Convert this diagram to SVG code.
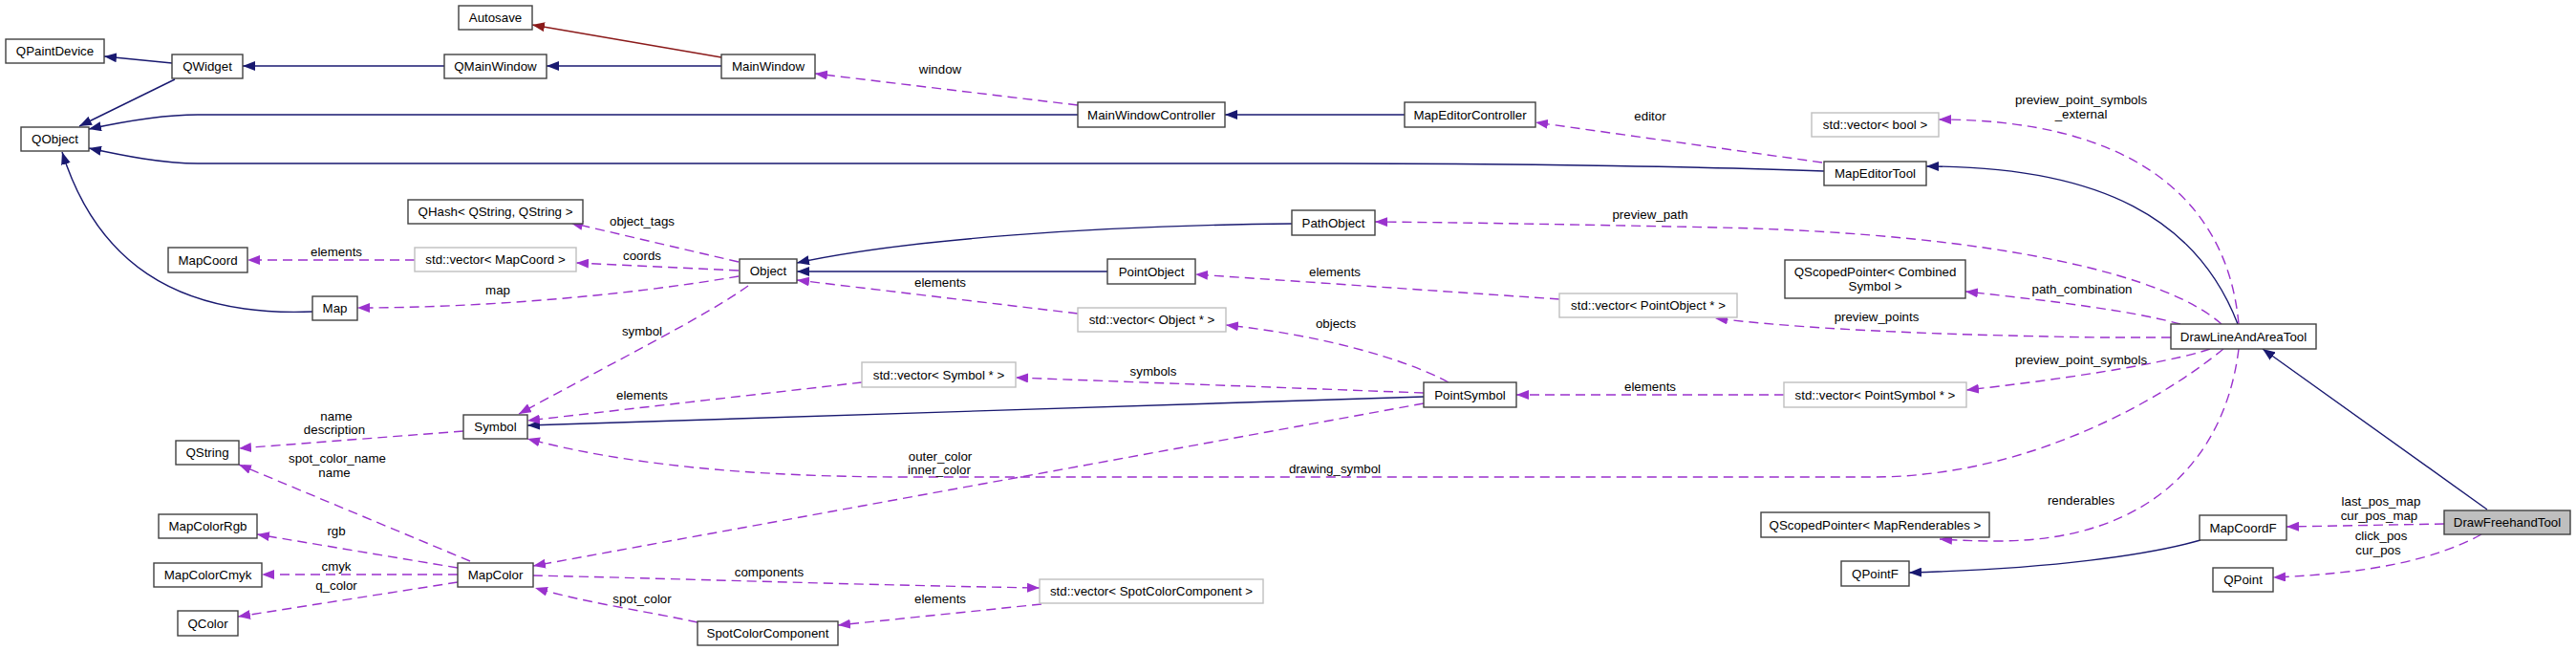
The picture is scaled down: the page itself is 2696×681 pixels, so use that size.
<svg xmlns="http://www.w3.org/2000/svg" width="2696" height="681" viewBox="0 0 2696 681">
<style>
.n rect{fill:#fff;stroke:#404040;stroke-width:1.4}
.n.t rect{stroke:#bfbfbf}
.n.cur rect{fill:#bfbfbf}
text{font-family:"Liberation Sans",Arial,sans-serif;font-size:13.3px;fill:#000}
.n text{text-anchor:middle}
.lbl text{text-anchor:middle}
.inh{fill:none;stroke:#191970;stroke-width:1.4;marker-end:url(#an)}
.red{fill:none;stroke:#8b1a1a;stroke-width:1.4;marker-end:url(#ar)}
.use{fill:none;stroke:#9a32cd;stroke-width:1.4;stroke-dasharray:10,6;marker-end:url(#ap)}
</style>
<defs>
<marker id="an" viewBox="0 0 13 10" refX="13" refY="5" markerWidth="13" markerHeight="10" markerUnits="userSpaceOnUse" orient="auto"><path d="M0,0 L13,5 L0,10 z" fill="#191970" stroke="none"/></marker>
<marker id="ar" viewBox="0 0 13 10" refX="13" refY="5" markerWidth="13" markerHeight="10" markerUnits="userSpaceOnUse" orient="auto"><path d="M0,0 L13,5 L0,10 z" fill="#8b1a1a" stroke="none"/></marker>
<marker id="ap" viewBox="0 0 13 10" refX="13" refY="5" markerWidth="13" markerHeight="10" markerUnits="userSpaceOnUse" orient="auto"><path d="M0,0 L13,5 L0,10 z" fill="#9a32cd" stroke="none"/></marker>
</defs>
<rect x="0" y="0" width="2696" height="681" fill="#fff"/>

<g id="edges">
<path class="inh" d="M180,66 L109,59"/>
<path class="inh" d="M183,83 L83,132"/>
<path class="inh" d="M465,69 L254,69"/>
<path class="inh" d="M755,69 L572,69"/>
<path class="red" d="M755,60 L557,26"/>
<path class="inh" d="M1128,120 L207,120 C170,120 130,127 93,135"/>
<path class="inh" d="M1909,179 C1800,175 1600,171 1400,171 L207,171 C170,171 130,163 93,155"/>
<path class="inh" d="M327,326 C180,332 100,270 65,159"/>
<path class="inh" d="M1352,234 C1150,236 950,250 834,275"/>
<path class="inh" d="M1159,284 L834,284"/>
<path class="inh" d="M1490,415 L552,445"/>
<path class="inh" d="M2342,339 C2300,230 2200,174 2016,174"/>
<path class="inh" d="M2303,565 C2250,580 2150,595 1998,599"/>
<path class="inh" d="M2603,533 L2368,365"/>
<path class="inh" d="M1470,120 L1282,120"/>

<path class="use" d="M1128,110 L853,77"/>
<path class="use" d="M1907,170 L1607,128"/>
<path class="use" d="M773,274 L597,233"/>
<path class="use" d="M773,283 L603,275"/>
<path class="use" d="M434,272 L259,272"/>
<path class="use" d="M773,289 C650,310 500,322 374,322"/>
<path class="use" d="M783,299 C740,330 640,380 543,433"/>
<path class="use" d="M1128,328 L834,293"/>
<path class="use" d="M902,400 L552,440"/>
<path class="use" d="M1490,411 L1063,395"/>
<path class="use" d="M1516,400 C1470,375 1380,350 1283,340"/>
<path class="use" d="M1490,422 L558,592"/>
<path class="use" d="M2327,365 C2260,420 2120,499 1960,499 L950,499 C780,499 650,485 552,459"/>
<path class="use" d="M492,587 L250,486"/>
<path class="use" d="M485,451 L250,469"/>
<path class="use" d="M479,594 L269,559"/>
<path class="use" d="M479,601 L274,601"/>
<path class="use" d="M479,609 L249,645"/>
<path class="use" d="M558,602 C700,605 900,612 1088,615"/>
<path class="use" d="M730,651 C680,640 610,630 560,615"/>
<path class="use" d="M1090,632 L877,654"/>
<path class="use" d="M1632,313 L1251,287"/>
<path class="use" d="M2325,339 C2270,290 2100,245 1800,238 C1650,235 1550,233 1439,232"/>
<path class="use" d="M2343,339 C2330,200 2220,125 2029,125"/>
<path class="use" d="M2282,339 C2230,325 2150,315 2057,305"/>
<path class="use" d="M2272,353 L2200,353 C2000,350 1880,343 1795,333"/>
<path class="use" d="M2313,365 C2270,380 2150,398 2058,408"/>
<path class="use" d="M2343,365 C2330,470 2260,566 2090,566 C2065,566 2050,565 2030,564"/>
<path class="use" d="M1867,413 L1587,413"/>
<path class="use" d="M2558,548 L2393,551"/>
<path class="use" d="M2597,559 C2550,585 2480,600 2379,604"/>
</g>

<g id="labels" class="lbl">
<text x="984" y="77">window</text>
<text x="1727" y="126">editor</text>
<text x="672" y="236">object_tags</text>
<text x="672" y="272">coords</text>
<text x="352" y="268">elements</text>
<text x="521" y="308">map</text>
<text x="672" y="351">symbol</text>
<text x="984" y="300">elements</text>
<text x="672" y="418">elements</text>
<text x="1207" y="393">symbols</text>
<text x="1398" y="343">objects</text>
<text x="984" y="482">outer_color</text>
<text x="983" y="496">inner_color</text>
<text x="1397" y="495">drawing_symbol</text>
<text x="352" y="440">name</text>
<text x="350" y="454">description</text>
<text x="353" y="484">spot_color_name</text>
<text x="350" y="499">name</text>
<text x="352" y="560">rgb</text>
<text x="352" y="597">cmyk</text>
<text x="352" y="617">q_color</text>
<text x="805" y="603">components</text>
<text x="672" y="631">spot_color</text>
<text x="984" y="631">elements</text>
<text x="1397" y="289">elements</text>
<text x="1727" y="229">preview_path</text>
<text x="2178" y="109">preview_point_symbols</text>
<text x="2178" y="124">_external</text>
<text x="2179" y="307">path_combination</text>
<text x="1964" y="336">preview_points</text>
<text x="2178" y="381">preview_point_symbols</text>
<text x="2178" y="528">renderables</text>
<text x="1727" y="409">elements</text>
<text x="2492" y="529">last_pos_map</text>
<text x="2490" y="544">cur_pos_map</text>
<text x="2492" y="565">click_pos</text>
<text x="2489" y="580">cur_pos</text>
</g>

<g id="QPaintDevice" class="n"><rect x="6" y="41" width="103" height="25"/><text x="57.5" y="58">QPaintDevice</text></g>
<g id="QWidget" class="n"><rect x="180" y="57" width="74" height="25"/><text x="217" y="74">QWidget</text></g>
<g id="QObject" class="n"><rect x="22" y="133" width="71" height="25"/><text x="57.5" y="150">QObject</text></g>
<g id="MapCoord" class="n"><rect x="176" y="259" width="83" height="26"/><text x="217.5" y="276.5">MapCoord</text></g>
<g id="Map" class="n"><rect x="327" y="310" width="47" height="25"/><text x="350.5" y="327">Map</text></g>
<g id="Autosave" class="n"><rect x="480" y="6" width="77" height="25"/><text x="518.5" y="23">Autosave</text></g>
<g id="QMainWindow" class="n"><rect x="465" y="57" width="107" height="25"/><text x="518.5" y="74">QMainWindow</text></g>
<g id="MainWindow" class="n"><rect x="755" y="57" width="98" height="25"/><text x="804" y="74">MainWindow</text></g>
<g id="QHash" class="n"><rect x="427" y="209" width="183" height="25"/><text x="518.5" y="226">QHash&lt; QString, QString &gt;</text></g>
<g id="vecMapCoord" class="n t"><rect x="434" y="259" width="169" height="25"/><text x="518.5" y="276">std::vector&lt; MapCoord &gt;</text></g>
<g id="Object" class="n"><rect x="774" y="271" width="60" height="25"/><text x="804" y="288">Object</text></g>
<g id="MainWindowController" class="n"><rect x="1128" y="107" width="154" height="26"/><text x="1205" y="124.5">MainWindowController</text></g>
<g id="PointObject" class="n"><rect x="1159" y="271" width="92" height="26"/><text x="1205" y="288.5">PointObject</text></g>
<g id="vecObject" class="n t"><rect x="1128" y="322" width="155" height="25"/><text x="1205.5" y="339">std::vector&lt; Object * &gt;</text></g>
<g id="MapEditorController" class="n"><rect x="1470" y="107" width="137" height="26"/><text x="1538.5" y="124.5">MapEditorController</text></g>
<g id="PathObject" class="n"><rect x="1352" y="220" width="87" height="26"/><text x="1395.5" y="237.5">PathObject</text></g>
<g id="vecPointObject" class="n t"><rect x="1632" y="307" width="186" height="25"/><text x="1725" y="324">std::vector&lt; PointObject * &gt;</text></g>
<g id="vecBool" class="n t"><rect x="1896" y="118" width="133" height="25"/><text x="1962.5" y="135">std::vector&lt; bool &gt;</text></g>
<g id="MapEditorTool" class="n"><rect x="1909" y="169" width="107" height="25"/><text x="1962.5" y="186">MapEditorTool</text></g>
<g id="QScopedPointerCombinedSymbol" class="n"><rect x="1868" y="272" width="189" height="40"/><text x="1962.5" y="288.5">QScopedPointer&lt; Combined</text><text x="1962.5" y="304">Symbol &gt;</text></g>
<g id="DrawLineAndAreaTool" class="n"><rect x="2272" y="339" width="152" height="26"/><text x="2348" y="356.5">DrawLineAndAreaTool</text></g>
<g id="DrawFreehandTool" class="n cur"><rect x="2558" y="534" width="132" height="25"/><text x="2624" y="551">DrawFreehandTool</text></g>
<g id="MapCoordF" class="n"><rect x="2302" y="539" width="91" height="26"/><text x="2347.5" y="556.5">MapCoordF</text></g>
<g id="QPoint" class="n"><rect x="2316" y="594" width="63" height="25"/><text x="2347.5" y="611">QPoint</text></g>
<g id="QString" class="n"><rect x="184" y="461" width="66" height="25"/><text x="217" y="478">QString</text></g>
<g id="MapColorRgb" class="n"><rect x="166" y="538" width="103" height="25"/><text x="217.5" y="555">MapColorRgb</text></g>
<g id="MapColorCmyk" class="n"><rect x="161" y="589" width="113" height="25"/><text x="217.5" y="606">MapColorCmyk</text></g>
<g id="QColor" class="n"><rect x="186" y="639" width="63" height="26"/><text x="217.5" y="656.5">QColor</text></g>
<g id="Symbol" class="n"><rect x="485" y="434" width="67" height="25"/><text x="518.5" y="451">Symbol</text></g>
<g id="MapColor" class="n"><rect x="479" y="589" width="79" height="25"/><text x="518.5" y="606">MapColor</text></g>
<g id="SpotColorComponent" class="n"><rect x="730" y="650" width="147" height="25"/><text x="803.5" y="667">SpotColorComponent</text></g>
<g id="vecSymbol" class="n t"><rect x="902" y="379" width="161" height="26"/><text x="982.5" y="396.5">std::vector&lt; Symbol * &gt;</text></g>
<g id="vecSpotColorComponent" class="n t"><rect x="1088" y="606" width="234" height="25"/><text x="1205" y="623">std::vector&lt; SpotColorComponent &gt;</text></g>
<g id="PointSymbol" class="n"><rect x="1490" y="400" width="97" height="26"/><text x="1538.5" y="417.5">PointSymbol</text></g>
<g id="vecPointSymbol" class="n t"><rect x="1867" y="400" width="191" height="26"/><text x="1962.5" y="417.5">std::vector&lt; PointSymbol * &gt;</text></g>
<g id="QScopedPointerMapRenderables" class="n"><rect x="1843" y="536" width="239" height="26"/><text x="1962.5" y="553.5">QScopedPointer&lt; MapRenderables &gt;</text></g>
<g id="QPointF" class="n"><rect x="1927" y="587" width="71" height="26"/><text x="1962.5" y="604.5">QPointF</text></g>
</svg>
